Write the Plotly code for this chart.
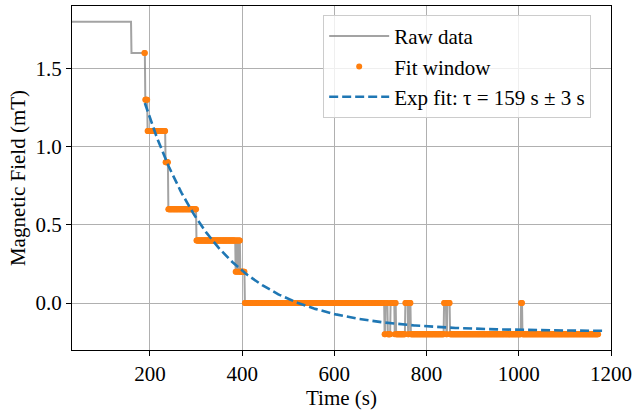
import numpy as np
import plotly.graph_objects as go

# Step levels of the raw reading: level starts at seg_start[i] and holds until the next start
seg_start = [30, 160, 190, 195, 234, 240, 301, 386, 388, 391, 393, 396, 406,
             709, 711, 716, 722, 731, 732, 734, 754, 760, 762, 766,
             838, 843, 845, 851, 1005, 1008]
seg_level = [1.8, 1.6, 1.3, 1.1, 0.9, 0.6, 0.4, 0.2, 0.4, 0.2, 0.4, 0.2, 0.0,
             -0.2, 0.0, -0.2, 0.0, -0.2, 0.0, -0.2, 0.0, -0.2, 0.0, -0.2,
             0.0, -0.2, 0.0, -0.2, 0.0, -0.2]
t_end = 1172
sample_dt = 1.0
fit_start = 188

# Exponential fit parameters (B = C + A*exp(-(t - t0)/tau))
fit_A = 1.46
fit_C = -0.18
fit_t0 = 189
fit_tau = 159
fit_t_end = 1185

x_ticks = [200, 400, 600, 800, 1000, 1200]
y_ticks = [0.0, 0.5, 1.0, 1.5]

# expand readings (zero-order hold of the sensor readings)
t = np.arange(seg_start[0], t_end + sample_dt, sample_dt)
idx = np.searchsorted(np.array(seg_start), t, side="right") - 1
B = np.array(seg_level)[idx]
mask = t >= fit_start

tf = np.linspace(fit_t0, fit_t_end, 400)
Bf = fit_C + fit_A * np.exp(-(tf - fit_t0) / fit_tau)

FONT = "Liberation Serif"
FS = 21

fig = go.Figure()
fig.add_trace(go.Scatter(x=t, y=B, mode="lines", name="Raw data",
                         line=dict(color="rgba(128,128,128,0.72)", width=2)))
fig.add_trace(go.Scatter(x=t[mask], y=B[mask], mode="markers", name="Fit window",
                         marker=dict(color="#ff7f0e", size=6)))
fig.add_trace(go.Scatter(x=tf, y=Bf, mode="lines",
                         name="Exp fit: τ = 159 s ± 3 s",
                         line=dict(color="#1f77b4", width=2.6, dash="9px,4px")))

axis_common = dict(showline=True, linecolor="black", linewidth=1, mirror=True,
                   ticks="outside", ticklen=5, tickcolor="black",
                   showgrid=True, gridcolor="#b0b0b0", gridwidth=1,
                   zeroline=False, automargin=False,
                   tickfont=dict(family=FONT, size=FS, color="black"))

fig.update_layout(
    width=634, height=410,
    margin=dict(l=72, r=23, t=6, b=60),
    plot_bgcolor="white", paper_bgcolor="white",
    font=dict(family=FONT, size=FS, color="black"),
    xaxis=dict(range=[31, 1200], tickvals=x_ticks,
               title=dict(text="Time (s)", font=dict(family=FONT, size=FS), standoff=2),
               **axis_common),
    yaxis=dict(range=[-0.3, 1.9], tickvals=y_ticks, tickformat=".1f",
               title=dict(text="Magnetic Field (mT)", font=dict(family=FONT, size=FS), standoff=4),
               **axis_common),
    legend=dict(x=0.466, y=0.974, xanchor="left", yanchor="top",
                bgcolor="rgba(255,255,255,0.8)", bordercolor="#cccccc", borderwidth=1,
                font=dict(family=FONT, size=FS), tracegroupgap=0, itemwidth=60),
    showlegend=True,
)

fig.write_html("out.html", config={"displayModeBar": False},
               post_script="document.body.style.margin='0';document.body.style.overflow='hidden';")
